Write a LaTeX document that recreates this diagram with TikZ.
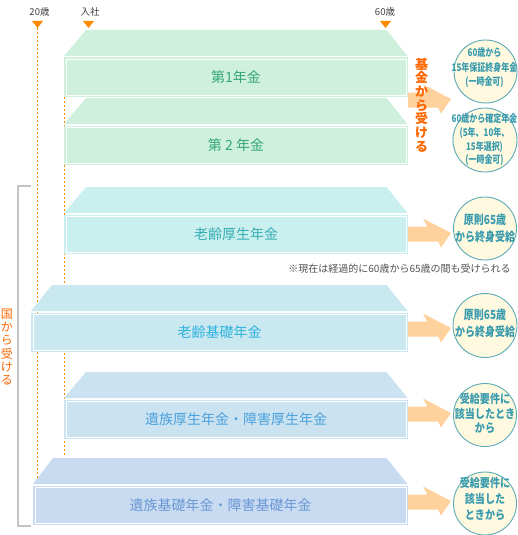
\documentclass[tikz,border=0pt]{standalone}
\usepackage{fontspec}
\setmainfont{Noto Sans CJK JP}
\usetikzlibrary{calc}
\definecolor{grnF}{HTML}{CFF0DC}
\definecolor{grnT}{HTML}{33A67C}
\definecolor{cyaF}{HTML}{CAEFEF}
\definecolor{cyaT}{HTML}{36AEB4}
\definecolor{lbF}{HTML}{C9E8F0}
\definecolor{lbT}{HTML}{2EB3DE}
\definecolor{bF}{HTML}{CBE2F0}
\definecolor{bT}{HTML}{4BA2DE}
\definecolor{dbF}{HTML}{C9DBF1}
\definecolor{dbT}{HTML}{6A98D6}
\definecolor{arrF}{HTML}{FFD19C}
\definecolor{circF}{HTML}{FFFADF}
\definecolor{circD}{HTML}{5BAAB8}
\definecolor{circT}{HTML}{3A9BAE}
\definecolor{orgT}{HTML}{FF6600}
\definecolor{orgM}{HTML}{FF8A00}
\definecolor{brk}{HTML}{C4C4C4}
% tier: #1 fill, #2 text colour, #3 back-left x, #4 front-left x, #5 top y, #6 name, #7 text
\newcommand{\pensionTier}[7]{%
  \fill[#1] ({#3},{#5}) -- (386.5,{#5}) -- (407.5,{#5+26}) -- ({#4},{#5+26}) -- cycle;
  \fill[#1] ({#4},{#5+27.5}) rectangle (408,{#5+67});
  \draw[white, line width=1pt] ({#4+2},{#5+29.5}) rectangle (406,{#5+65});
  \node[tierlabel, text=#2] (#6) at ({(#4+408)/2},{#5+47.5}) {#7};
}
\newcommand{\flowArrow}[1]{%
  \fill[arrF] (408,{#1-7.5}) -- (427,{#1-7.5}) -- (423,{#1-15.5}) -- (451,{#1-1})
    -- (441,{#1+13.5}) -- (438,{#1+7.5}) -- (408,{#1+7.5}) -- cycle;
}
\newcommand{\ctxt}[2]{\scalebox{#1}[1]{\begin{tabular}{@{}c@{}}#2\end{tabular}}}
\begin{document}
\begin{tikzpicture}[x=1pt,y=-1pt,
  tierlabel/.style={font=\fontsize{14}{14}\selectfont, inner sep=0},
  circlebox/.style={circle, draw=circD, fill=circF, line width=0.9pt, minimum size=63pt, inner sep=0},
  circtext/.style={text=circT, inner sep=0},
  agelabel/.style={font=\fontsize{9.5}{10}\selectfont, text=black!75, inner sep=0},
  agetri/.style={fill=orgM},
  ageline/.style={draw=orgM, line width=0.9pt, dash pattern=on 2pt off 2pt},
  vtext/.style={text=orgT, align=center, inner sep=0}
]
\useasboundingbox (0,0) rectangle (518,535);
\fill[white] (0,0) rectangle (518,535);

% age labels and markers
\node[agelabel] (age20) at (39.5,12) {20歳};
\node[agelabel] (nyusha) at (90,12) {入社};
\node[agelabel] (age60) at (385,12) {60歳};
\fill[agetri] (32,21) -- (43,21) -- (37.5,28) -- cycle;
\fill[agetri] (83,21) -- (94,21) -- (88.5,28) -- cycle;
\fill[agetri] (380,21) -- (391,21) -- (385.5,28) -- cycle;
\coordinate (l20a) at (37.5,28);
\coordinate (l20b) at (37.5,482);
\coordinate (lnya) at (64.5,97);
\coordinate (lnyb) at (64.5,455);
\draw[ageline] (l20a) -- (l20b);
\draw[ageline] (lnya) -- (lnyb);

% bracket
\coordinate (bA) at (31,186);
\coordinate (bB) at (18,186);
\coordinate (bC) at (18,526);
\coordinate (bD) at (31,526);
\draw[brk, line width=2pt] (bA) -- (bB) -- (bC) -- (bD);

% tiers
\pensionTier{grnF}{grnT}{86}{64}{30}{t1}{第1年金}
\pensionTier{grnF}{grnT}{86}{64}{98}{t2}{第 2 年金}
\pensionTier{cyaF}{cyaT}{86}{64}{187}{t3}{老齢厚生年金}
\pensionTier{lbF}{lbT}{52}{31}{285}{t4}{老齢基礎年金}
\pensionTier{bF}{bT}{86}{64}{372}{t5}{遺族厚生年金・障害厚生年金}
\pensionTier{dbF}{dbT}{53}{33}{458}{t6}{遺族基礎年金・障害基礎年金}

% arrows
\flowArrow{100}
\flowArrow{234}
\flowArrow{329}
\flowArrow{414}
\flowArrow{502}

% vertical texts
\node[vtext, font=\bfseries\fontsize{13}{13.7}\selectfont] (kikin) at (421.5,105) {基\\金\\か\\ら\\受\\け\\る};
\node[vtext, font=\fontsize{12}{13.3}\selectfont] (kuni) at (7,347) {国\\か\\ら\\受\\け\\る};

% note
\node[font=\fontsize{10}{10}\selectfont, text=black!68, inner sep=0] (note) at (399.5,269) {※現在は経過的に60歳から65歳の間も受けられる};

% circles
\node[circlebox] (c1) at (485.5,71.5) {};
\node[circlebox, minimum size=64pt] (c2) at (485,140) {};
\node[circlebox] (c3) at (485,228.5) {};
\node[circlebox, minimum size=64pt] (c4) at (485,325.5) {};
\node[circlebox] (c5) at (485,415) {};
\node[circlebox] (c6) at (485,503.5) {};

\node[circtext, font=\bfseries\fontsize{10.5}{14.5}\selectfont] (c1t) at (484.5,68.5) {\ctxt{0.76}{60歳から\\15年保証終身年金\\(一時金可)}};
\node[circtext, font=\bfseries\fontsize{10.5}{13.7}\selectfont] (c2t) at (484.5,140.5) {\ctxt{0.76}{60歳から確定年金\\(5年、10年、\\15年選択)\\(一時金可)}};
\node[circtext, font=\bfseries\fontsize{12.5}{17}\selectfont] (c3t) at (485,229.5) {\ctxt{0.8}{原則65歳\\から終身受給}};
\node[circtext, font=\bfseries\fontsize{12.5}{17}\selectfont] (c4t) at (485,325) {\ctxt{0.8}{原則65歳\\から終身受給}};
\node[circtext, font=\bfseries\fontsize{12}{14}\selectfont] (c5t) at (485,415) {\ctxt{0.84}{受給要件に\\該当したとき\\から}};
\node[circtext, font=\bfseries\fontsize{12}{16}\selectfont] (c6t) at (485,500) {\ctxt{0.84}{受給要件に\\該当した\\ときから}};
\end{tikzpicture}
\end{document}
